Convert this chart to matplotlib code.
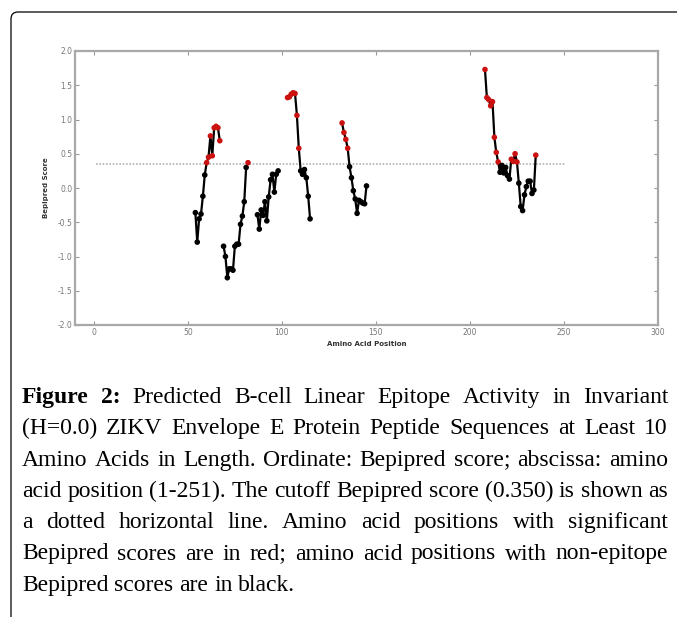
import matplotlib
matplotlib.use("Agg")
import matplotlib.pyplot as plt
from matplotlib.patches import FancyBboxPatch
from matplotlib.transforms import IdentityTransform
import numpy as np

# Bepipred scores, one run of positions per peptide
seg_start = [54, 69, 87, 103, 132, 208]
seg_scores = [
    [-0.36, -0.79, -0.45, -0.38, -0.12, 0.19, 0.37, 0.45, 0.76, 0.47, 0.88, 0.90, 0.88, 0.69],
    [-0.85, -1.00, -1.31, -1.18, -1.18, -1.20, -0.85, -0.82, -0.82, -0.53, -0.41, -0.20, 0.30, 0.37],
    [-0.39, -0.60, -0.32, -0.40, -0.20, -0.48, -0.13, 0.12, 0.20, -0.06, 0.20, 0.25],
    [1.32, 1.33, 1.37, 1.39, 1.38, 1.06, 0.58, 0.25, 0.20, 0.27, 0.15, -0.12, -0.45],
    [0.95, 0.81, 0.71, 0.58, 0.31, 0.15, -0.04, -0.16, -0.37, -0.18, -0.20, -0.22, -0.23, 0.03],
    [1.73, 1.32, 1.29, 1.20, 1.26, 0.74, 0.52, 0.38, 0.23, 0.33, 0.22, 0.30, 0.18, 0.13,
     0.42, 0.39, 0.50, 0.38, 0.07, -0.27, -0.33, -0.10, 0.02, 0.10, 0.10, -0.08, -0.03, 0.48],
]
cutoff = 0.35
seq_len = 251

caption_lines = [
    "Figure 2: Predicted B-cell Linear Epitope Activity in Invariant",
    "(H=0.0) ZIKV Envelope E Protein Peptide Sequences at Least 10",
    "Amino Acids in Length. Ordinate: Bepipred score; abscissa: amino",
    "acid position (1-251). The cutoff Bepipred score (0.350) is shown as",
    "a dotted horizontal line. Amino acid positions with significant",
    "Bepipred scores are in red; amino acid positions with non-epitope",
    "Bepipred scores are in black.",
]

W, H = 677, 617
fig = plt.figure(figsize=(W / 100, H / 100), dpi=100)
fig.patch.set_facecolor("white")

# plot area, in pixels from the picture
ax = fig.add_axes([75 / W, 1 - 325 / H, (658 - 75) / W, (325 - 51) / H])

ax.plot([1, seq_len], [cutoff, cutoff], ls=(0, (1, 1)), color="#b0b0b0", lw=1.2, zorder=1)

for st, sc in zip(seg_start, seg_scores):
    x = np.arange(st, st + len(sc))
    y = np.array(sc)
    ax.plot(x, y, color="black", lw=1.6, zorder=2)
    cols = np.where(y >= cutoff, "#cc1111", "black")
    ax.scatter(x, y, s=9, c=cols, edgecolors=cols, zorder=3)

ax.set_xlim(-10, 300)
ax.set_ylim(-2.0, 2.0)
ax.set_xticks(np.arange(0, 301, 50))
ax.set_yticks(np.arange(-2.0, 2.01, 0.5))
ax.yaxis.set_major_formatter(matplotlib.ticker.FormatStrFormatter("%.1f"))
ax.tick_params(direction="in", length=3, width=0.8, color="#999999",
               labelsize=5.5, labelcolor="#777777", pad=2,
               top=True, right=True)
for sp in ax.spines.values():
    sp.set_color("#a8a8a8")
    sp.set_linewidth(1.6)
ax.set_xlabel("Amino Acid Position", fontsize=5, fontweight="bold", color="#333333", labelpad=3)
ax.set_ylabel("Bepipred Score", fontsize=5, fontweight="bold", color="#333333", labelpad=6)

# frame round the figure, rounded top-left corner
box = FancyBboxPatch((11, -30), 720, H - 12 + 30, boxstyle="round,pad=0,rounding_size=7",
                     transform=IdentityTransform(), fill=False, ec="black", lw=0.9)
fig.add_artist(box)

# justified caption
renderer = fig.canvas.get_renderer()
serif = "Liberation Serif"
probe = fig.text(0, 0, caption_lines[-1], fontsize=10, family=serif)
fs = 10 * 273 / probe.get_window_extent(renderer).width
probe.remove()

left, right = 22, 668
base0, step = 403, 31.3
for i, line in enumerate(caption_lines):
    words = line.split(" ")
    arts = []
    for j, w in enumerate(words):
        bold = i == 0 and j < 2
        t = fig.text(0, 0, w, fontsize=fs, family=serif,
                     fontweight="bold" if bold else "normal", va="baseline")
        arts.append(t)
    widths = [a.get_window_extent(renderer).width for a in arts]
    if i < len(caption_lines) - 1:
        gap = (right - left - sum(widths)) / (len(words) - 1)
    else:
        sp = fig.text(0, 0, "a a", fontsize=fs, family=serif)
        sp2 = fig.text(0, 0, "aa", fontsize=fs, family=serif)
        gap = sp.get_window_extent(renderer).width - sp2.get_window_extent(renderer).width
        sp.remove()
        sp2.remove()
    xpos = left
    yb = 1 - (base0 + step * i) / H
    for a, w in zip(arts, widths):
        a.set_position((xpos / W, yb))
        xpos += w + gap

fig.savefig("out.png", dpi=100)
